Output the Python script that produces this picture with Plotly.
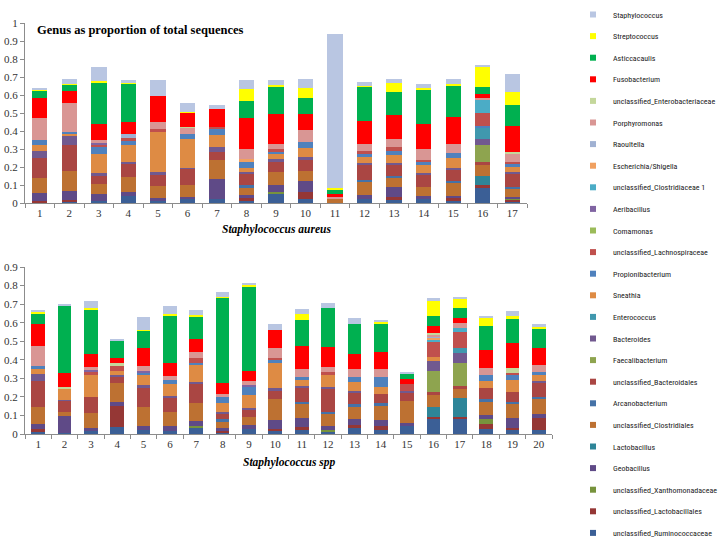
import plotly.graph_objects as go

W, H = 721, 541

top_cats = [str(i) for i in range(1, 18)]
bot_cats = [str(i) for i in range(1, 21)]

# Legend order (top of stack first)
legend_names = [
    "Staphylococcus", "Streptococcus", "Asticcacaulis", "Fusobacterium",
    "unclassified_Enterobacteriaceae", "Porphyromonas", "Raoultella",
    "Escherichia/Shigella", "unclassified_Clostridiaceae 1", "Aeribacillus",
    "Comamonas", "unclassified_Lachnospiraceae", "Propionibacterium", "Sneathia",
    "Enterococcus", "Bacteroides", "Faecalibacterium", "unclassified_Bacteroidales",
    "Arcanobacterium", "unclassified_Clostridiales", "Lactobacillus", "Geobacillus",
    "unclassified_Xanthomonadaceae", "unclassified_Lactobacillales",
    "unclassified_Ruminococcaceae",
]

colors = {
    "Staphylococcus": "#B9C6E2", "Streptococcus": "#FFFF00", "Asticcacaulis": "#00B050",
    "Fusobacterium": "#FF0000", "unclassified_Enterobacteriaceae": "#C4D79B",
    "Porphyromonas": "#D99694", "Raoultella": "#A0B1D2", "Escherichia/Shigella": "#F0A060",
    "unclassified_Clostridiaceae 1": "#4BACC6", "Aeribacillus": "#8064A2",
    "Comamonas": "#9BBB59", "unclassified_Lachnospiraceae": "#C0504D",
    "Propionibacterium": "#4F81BD", "Sneathia": "#DE8B44", "Enterococcus": "#4098AE",
    "Bacteroides": "#71598F", "Faecalibacterium": "#8EA44F",
    "unclassified_Bacteroidales": "#AA4643", "Arcanobacterium": "#4572A7",
    "unclassified_Clostridiales": "#BD7132", "Lactobacillus": "#2E8598",
    "Geobacillus": "#5F4A87", "unclassified_Xanthomonadaceae": "#77933C",
    "unclassified_Lactobacillales": "#953735", "unclassified_Ruminococcaceae": "#3B5F96",
}

# ---- Staphylococcus aureus (top panel), 17 samples ----
top_ruminococcaceae = [.005, .008, .012, .04, .01, .022, .02, .011, .048, .022, 0, .022, .017, .022, .011, .085, .008]
top_lactobacillales = [.005, .007, 0, 0, 0, 0, 0, .015, 0, .041, 0, 0, .018, 0, .015, .015, .009]
top_xanthomonadaceae = [0, 0, 0, 0, 0, 0, 0, 0, .012, 0, 0, 0, 0, 0, 0, 0, .005]
top_geobacillus = [.048, .05, .038, .02, .02, .013, .113, .018, .04, .059, 0, .022, .055, .017, .013, 0, .012]
top_lactobacillus = [0, 0, 0, 0, 0, 0, 0, 0, 0, 0, 0, 0, 0, 0, 0, .052, 0]
top_clostridiales = [.082, .115, .055, .085, .065, .065, .106, .041, .074, .056, .026, .075, .05, .051, .07, .059, .047]
top_arcanobacterium = [0, 0, 0, 0, 0, 0, 0, .015, 0, 0, 0, .009, .012, 0, .013, 0, .009]
top_bacteroidales = [.11, .145, .05, .075, .065, .09, .046, .06, .056, .065, 0, .083, .058, .071, .065, .019, .075]
top_faecalibacterium = [0, 0, 0, 0, 0, 0, 0, 0, 0, 0, 0, 0, 0, 0, 0, .092, 0]
top_bacteroides = [.04, .045, .01, .01, .01, .006, .025, .014, .013, .011, 0, .013, .014, .007, .009, .032, .008]
top_enterococcus = [0, 0, 0, 0, 0, 0, 0, 0, 0, 0, 0, 0, 0, 0, 0, .061, 0]
top_sneathia = [.035, .015, .105, .09, .225, .159, .066, .019, .027, .053, 0, .033, .043, .043, .056, 0, .027]
top_propionibacterium = [.025, .01, .04, .025, 0, .028, .034, .033, .014, .03, 0, .015, .023, .019, .024, .013, .017]
top_lachnospiraceae = [0, 0, .015, .015, .015, 0, .014, 0, .014, 0, 0, .018, .02, .009, 0, .074, .013]
top_comamonas = [0] * 17
top_aeribacillus = [0, 0, .01, 0, 0, 0, 0, 0, 0, 0, 0, 0, 0, 0, 0, 0, 0]
top_clostridiaceae1 = [0, 0, 0, 0, 0, 0, 0, 0, 0, 0, 0, 0, 0, 0, 0, .07, 0]
top_escherichia = [0, 0, 0, 0, 0, 0, 0, .018, 0, 0, 0, 0, 0, 0, 0, 0, 0]
top_raoultella = [0, 0, 0, .025, 0, 0, 0, 0, 0, 0, 0, 0, 0, 0, 0, 0, 0]
top_porphyromonas = [.12, .158, .015, 0, .04, .034, 0, .054, .03, .068, .009, .038, .045, .061, .05, .013, .042]
top_enterobacteriaceae = [0, 0, 0, 0, 0, .007, 0, 0, 0, 0, 0, 0, 0, 0, 0, 0, .013]
top_fusobacterium = [.115, .069, .09, .067, .145, .078, .096, .176, .166, .089, .015, .129, .134, .139, .15, .022, .143]
top_asticcacaulis = [.04, .038, .232, .21, 0, 0, 0, .095, .149, .091, .026, .189, .126, .189, .174, .039, .116]
top_streptococcus = [.005, .002, .008, .006, .002, .005, 0, .066, .013, .054, .009, .006, .05, .009, .013, .111, .071]
top_staphylococcus = [.01, .028, .077, .015, .086, .05, .025, .05, .029, .051, .855, .022, .024, .022, .024, .01, .102]

# ---- Staphylococcus spp (bottom panel), 20 samples ----
bot_ruminococcaceae = [.013, .005, .016, .036, .022, .018, .036, .009, .025, .018, .022, .013, .034, .022, .043, .079, .079, .025, .022, .022]
bot_lactobacillales = [.012, 0, 0, .117, 0, 0, 0, .007, 0, .009, .018, 0, .014, .023, 0, .014, .011, .029, .009, .062]
bot_xanthomonadaceae = [0, 0, 0, 0, 0, 0, .007, 0, 0, 0, 0, .009, 0, 0, 0, 0, 0, .025, 0, 0]
bot_geobacillus = [.029, .094, .018, .022, .023, .025, .027, .018, .025, .048, .044, .023, .033, .03, .014, 0, 0, .023, .057, .024]
bot_lactobacillus = [0, 0, 0, 0, 0, 0, 0, 0, 0, 0, 0, 0, 0, 0, 0, .054, .102, 0, 0, 0]
bot_clostridiales = [.09, .018, .078, .099, .099, .077, .099, .036, .043, .112, .078, .066, .066, .078, .123, .063, .049, .072, .072, .079]
bot_arcanobacterium = [0, 0, 0, 0, 0, 0, 0, .009, 0, 0, .009, .009, .013, .012, 0, 0, 0, .013, .014, .014]
bot_bacteroidales = [.142, .061, .09, .036, .103, .076, .101, .032, .036, .05, .075, .126, .059, .049, .043, .018, .018, .059, .054, .072]
bot_faecalibacterium = [0, 0, 0, 0, 0, 0, 0, 0, 0, 0, 0, 0, 0, 0, 0, .112, .122, 0, 0, 0]
bot_bacteroides = [.036, .005, 0, .008, .018, .008, .01, .009, .013, .009, .013, .009, .013, 0, .009, .053, .057, 0, 0, .014]
bot_enterococcus = [0, 0, 0, 0, 0, 0, 0, 0, 0, 0, 0, 0, 0, 0, 0, 0, .024, 0, 0, 0]
bot_sneathia = [.027, .058, .117, .022, .054, .064, .093, .045, .068, .135, .032, .063, .05, .041, 0, .024, 0, .041, .063, .035]
bot_propionibacterium = [.015, 0, 0, 0, .012, .024, .009, .036, .045, .018, .018, 0, .027, .05, 0, 0, 0, .031, .027, .01]
bot_lachnospiraceae = [0, 0, .015, .024, 0, 0, .027, 0, 0, .012, 0, .018, 0, 0, .038, .081, .089, 0, .009, 0]
bot_comamonas = [0] * 20
bot_aeribacillus = [0, 0, .012, 0, .011, 0, 0, 0, .009, 0, 0, 0, 0, 0, 0, 0, 0, 0, 0, 0]
bot_clostridiaceae1 = [0, 0, 0, 0, 0, 0, 0, 0, 0, 0, 0, 0, 0, 0, 0, .012, .018, 0, 0, 0]
bot_escherichia = [0, 0, 0, 0, 0, 0, 0, 0, 0, 0, 0, 0, 0, 0, 0, .01, 0, 0, 0, 0]
bot_raoultella = [0, 0, 0, 0, 0, 0, 0, 0, 0, 0, 0, 0, 0, 0, 0, .008, 0, 0, 0, 0]
bot_porphyromonas = [.108, 0, .014, 0, .022, .021, .032, .015, .023, .051, .039, .027, .039, .043, 0, .01, .031, .039, 0, .04]
bot_enterobacteriaceae = [0, .011, 0, .018, 0, 0, 0, 0, 0, 0, 0, 0, 0, 0, 0, .005, 0, 0, .027, 0]
bot_fusobacterium = [.122, .079, .072, .03, .099, .072, .07, .057, .053, .098, .126, .104, .083, .096, .025, .041, .027, .096, .135, .093]
bot_asticcacaulis = [.054, .357, .241, .092, .093, .254, .123, .462, .454, 0, .14, .214, .16, .152, .032, .052, .05, .131, .131, .104]
bot_streptococcus = [.007, 0, .006, 0, .006, .007, .006, .005, .009, 0, .033, 0, 0, .008, 0, .086, .049, .043, .016, .009]
bot_staphylococcus = [.015, .014, .036, .007, .068, .045, .03, .027, .012, .033, .025, .027, .032, .01, .005, .009, .014, .009, .029, .013]

top_series = {
    "unclassified_Ruminococcaceae": top_ruminococcaceae,
    "unclassified_Lactobacillales": top_lactobacillales,
    "unclassified_Xanthomonadaceae": top_xanthomonadaceae,
    "Geobacillus": top_geobacillus,
    "Lactobacillus": top_lactobacillus,
    "unclassified_Clostridiales": top_clostridiales,
    "Arcanobacterium": top_arcanobacterium,
    "unclassified_Bacteroidales": top_bacteroidales,
    "Faecalibacterium": top_faecalibacterium,
    "Bacteroides": top_bacteroides,
    "Enterococcus": top_enterococcus,
    "Sneathia": top_sneathia,
    "Propionibacterium": top_propionibacterium,
    "unclassified_Lachnospiraceae": top_lachnospiraceae,
    "Comamonas": top_comamonas,
    "Aeribacillus": top_aeribacillus,
    "unclassified_Clostridiaceae 1": top_clostridiaceae1,
    "Escherichia/Shigella": top_escherichia,
    "Raoultella": top_raoultella,
    "Porphyromonas": top_porphyromonas,
    "unclassified_Enterobacteriaceae": top_enterobacteriaceae,
    "Fusobacterium": top_fusobacterium,
    "Asticcacaulis": top_asticcacaulis,
    "Streptococcus": top_streptococcus,
    "Staphylococcus": top_staphylococcus,
}
bot_series = {
    "unclassified_Ruminococcaceae": bot_ruminococcaceae,
    "unclassified_Lactobacillales": bot_lactobacillales,
    "unclassified_Xanthomonadaceae": bot_xanthomonadaceae,
    "Geobacillus": bot_geobacillus,
    "Lactobacillus": bot_lactobacillus,
    "unclassified_Clostridiales": bot_clostridiales,
    "Arcanobacterium": bot_arcanobacterium,
    "unclassified_Bacteroidales": bot_bacteroidales,
    "Faecalibacterium": bot_faecalibacterium,
    "Bacteroides": bot_bacteroides,
    "Enterococcus": bot_enterococcus,
    "Sneathia": bot_sneathia,
    "Propionibacterium": bot_propionibacterium,
    "unclassified_Lachnospiraceae": bot_lachnospiraceae,
    "Comamonas": bot_comamonas,
    "Aeribacillus": bot_aeribacillus,
    "unclassified_Clostridiaceae 1": bot_clostridiaceae1,
    "Escherichia/Shigella": bot_escherichia,
    "Raoultella": bot_raoultella,
    "Porphyromonas": bot_porphyromonas,
    "unclassified_Enterobacteriaceae": bot_enterobacteriaceae,
    "Fusobacterium": bot_fusobacterium,
    "Asticcacaulis": bot_asticcacaulis,
    "Streptococcus": bot_streptococcus,
    "Staphylococcus": bot_staphylococcus,
}

fig = go.Figure()
for name, vals in top_series.items():
    fig.add_trace(go.Bar(x=top_cats, y=vals, name=name, marker=dict(color=colors[name], line=dict(width=0)),
                         xaxis="x", yaxis="y", showlegend=False))
for name, vals in bot_series.items():
    fig.add_trace(go.Bar(x=bot_cats, y=vals, name=name, marker=dict(color=colors[name], line=dict(width=0)),
                         xaxis="x2", yaxis="y2", showlegend=False))

# legend entries (small squares)
for i, name in enumerate(legend_names):
    fig.add_trace(go.Scatter(x=[None], y=[None], mode="markers", name=name, legendgroup="g%d" % i,
                             marker=dict(symbol="square", size=6, color=colors[name]),
                             xaxis="x", yaxis="y", showlegend=True))

tick_font = dict(family="Liberation Serif, Times New Roman, serif", size=11, color="#333333")
axis_common = dict(showgrid=False, zeroline=False, showline=True, linecolor="#8C8C8C", linewidth=1,
                   ticks="outside", ticklen=4, tickcolor="#8C8C8C", tickfont=tick_font, fixedrange=True)

legend_font = dict(family="Roboto Condensed, Noto Sans Condensed, DejaVu Sans Condensed, "
                          "Liberation Sans Narrow, Arial Narrow, Liberation Sans, sans-serif",
                   size=8, color="#222222")

fig.update_layout(
    width=W, height=H,
    margin=dict(l=0, r=0, t=0, b=0, autoexpand=False),
    paper_bgcolor="white", plot_bgcolor="white",
    barmode="stack", bargap=0.48,
    xaxis=dict(domain=[25 / W, 527 / W], anchor="y", type="category", tickson="boundaries", **axis_common),
    yaxis=dict(domain=[1 - 203 / H, 1 - 23 / H], anchor="x", range=[0, 1], dtick=0.1, **axis_common),
    xaxis2=dict(domain=[25 / W, 552 / W], anchor="y2", type="category", tickson="boundaries", **axis_common),
    yaxis2=dict(domain=[1 - 434 / H, 1 - 267 / H], anchor="x2", range=[0, 0.9], dtick=0.1, **axis_common),
    legend=dict(x=573 / W, xanchor="left", y=1.0, yanchor="top", tracegroupgap=2.6, maxheight=600,
                traceorder="grouped", font=legend_font,
                bgcolor="rgba(0,0,0,0)", itemclick=False),
    showlegend=True,
    annotations=[
        dict(text="<b>Genus as proportion of total sequences</b>", x=35 / W, y=1 - 30 / H, xref="paper", yref="paper",
             xanchor="left", yanchor="middle", showarrow=False,
             font=dict(family="Liberation Serif, Times New Roman, serif", size=12.5, color="#000000")),
        dict(text="<b><i>Staphylococcus aureus</i></b>", x=276 / W, y=1 - 229 / H, xref="paper", yref="paper",
             xanchor="center", yanchor="middle", showarrow=False,
             font=dict(family="Liberation Serif, Times New Roman, serif", size=11.5, color="#000000")),
        dict(text="<b><i>Staphylococcus spp</i></b>", x=289 / W, y=1 - 462 / H, xref="paper", yref="paper",
             xanchor="center", yanchor="middle", showarrow=False,
             font=dict(family="Liberation Serif, Times New Roman, serif", size=11.5, color="#000000")),
    ],
)

fig.write_html("out.html", config={"displayModeBar": False},
               post_script="document.body.style.margin='0';document.body.style.padding='0';")
